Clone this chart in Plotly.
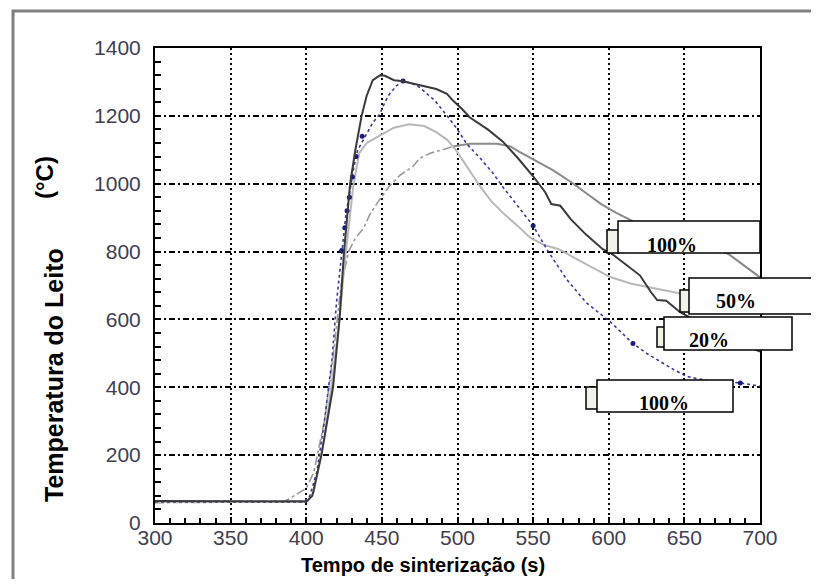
import plotly.graph_objects as go

# ---------------- data ----------------
dark_x = [300, 380, 398, 400, 404, 410, 417.7, 422, 425, 429, 432.5, 436.6, 440, 444, 449, 452,
          458, 463, 475, 486, 493, 497, 503, 508, 520, 530, 540, 550, 558, 562, 568, 575, 585,
          596, 601, 610, 620.6, 628, 632, 638, 647, 660, 680, 700]
dark_y = [65, 65, 64, 62, 80, 200, 400, 600, 800, 1000, 1100, 1200, 1260, 1305, 1320, 1318,
          1305, 1303, 1290, 1279, 1265, 1245, 1220, 1196, 1160, 1124, 1075, 1022, 975, 940, 935,
          895, 850, 807, 797, 765, 730, 680, 657, 655, 622, 590, 545, 505]

light_x = [300, 385, 400, 405, 412, 418, 422, 425, 428, 431, 435, 440, 443, 450, 458, 468, 478,
           486, 493, 499, 507, 515, 522, 530, 540, 548, 557, 567, 580, 590, 601, 615, 634, 649,
           670, 700]
light_y = [62, 62, 62, 90, 250, 450, 600, 750, 870, 990, 1090, 1120, 1128, 1145, 1165, 1175, 1170,
           1152, 1130, 1099, 1045, 992, 950, 914, 875, 841, 820, 807, 775, 750, 725, 705, 688, 675,
           660, 640]

mid_rise_x = [300, 385, 390, 400, 405, 412, 418, 423, 428, 432, 438, 442, 448, 455, 462, 470.6,
              475, 482, 490, 497]
mid_rise_y = [60, 62, 75, 102, 150, 300, 500, 700, 800, 836, 870, 909, 950, 993, 1025, 1051,
              1075, 1090, 1100, 1110]
mid_x = [497, 508, 526, 535, 541, 550, 563, 575, 585, 595, 605, 620, 640, 660, 680, 700]
mid_y = [1110, 1118, 1118, 1110, 1094, 1072, 1040, 1005, 972, 940, 914, 880, 855, 836, 790, 724]

blue_x = [300, 385, 398, 402, 407, 412, 417, 420, 423.4, 426, 429, 431.5, 434, 440, 444, 448.7,
          452, 455, 460, 464, 470, 475, 485, 493, 500, 506, 515, 523.5, 530, 536.6, 543, 550,
          560, 572, 585, 601, 616, 625, 634, 643, 651.5, 660, 669, 687, 700]
blue_y = [62, 62, 62, 75, 150, 300, 480, 650, 803, 900, 982, 1050, 1099, 1150, 1180, 1206,
          1240, 1264, 1290, 1303, 1295, 1284, 1245, 1201, 1160, 1118, 1075, 1031, 990, 953, 915,
          876, 800, 719, 650, 593, 529, 500, 476, 452, 432, 424, 418, 413, 403]
blue_mark_x = [423.4, 425.5, 427, 428.5, 430.5, 433, 437, 464, 550, 616, 687]
blue_mark_y = [803, 870, 920, 960, 1020, 1080, 1140, 1303, 876, 529, 413]

x_ticks = [300, 350, 400, 450, 500, 550, 600, 650, 700]
y_ticks = [0, 200, 400, 600, 800, 1000, 1200, 1400]

labels = ["100%", "50%", "20%", "100%"]

# ---------------- layout helpers (page pixel -> paper) ----------------
OFF = 8                      # page body margin
W, H = 819 - 2 * OFF, 587 - 2 * OFF
L, R, T, B = 155, 760, 48, 523   # plot area in page pixels


def px(p):
    return (p - L) / (R - L)


def py(p):
    return (B - p) / (B - T)


fig = go.Figure()

fig.add_trace(go.Scatter(x=mid_rise_x, y=mid_rise_y, mode="lines",
                         line=dict(color="#9a9a9a", width=1.6, dash="dashdot"), showlegend=False))
fig.add_trace(go.Scatter(x=mid_x, y=mid_y, mode="lines",
                         line=dict(color="#8a8a8a", width=2), showlegend=False))
fig.add_trace(go.Scatter(x=light_x, y=light_y, mode="lines",
                         line=dict(color="#b8b8b8", width=2), showlegend=False))
fig.add_trace(go.Scatter(x=blue_x, y=blue_y, mode="lines",
                         line=dict(color="#3a3a9a", width=1.6, dash="dot"), showlegend=False))
fig.add_trace(go.Scatter(x=blue_mark_x, y=blue_mark_y, mode="markers",
                         marker=dict(color="#1c1c7a", size=5), showlegend=False))
fig.add_trace(go.Scatter(x=dark_x, y=dark_y, mode="lines",
                         line=dict(color="#3a3a3a", width=2), showlegend=False))

tickfont = dict(family="Liberation Sans, Arial", size=21, color="#404050")

fig.update_xaxes(range=[300, 700], tickvals=x_ticks, ticktext=[str(v) for v in x_ticks],
                 showline=True, linecolor="black", linewidth=2, mirror=True,
                 ticks="inside", ticklen=6, tickwidth=2, tickcolor="black",
                 showgrid=True, gridcolor="black", gridwidth=2, griddash="2px,3px",
                 zeroline=False, tickfont=tickfont, ticklabelstandoff=-5,
                 minor=dict(dtick=10, ticks="inside", ticklen=5, tickwidth=2,
                            tickcolor="black", showgrid=False))
fig.update_yaxes(range=[0, 1400], tickvals=y_ticks, ticktext=[str(v) for v in y_ticks],
                 showline=True, linecolor="black", linewidth=2, mirror=True,
                 ticks="inside", ticklen=6, tickwidth=2, tickcolor="black",
                 showgrid=True, gridcolor="black", gridwidth=2, griddash="6px,3px,2px,3px",
                 zeroline=False, tickfont=tickfont, ticklabelstandoff=8,
                 minor=dict(dtick=40, ticks="inside", ticklen=6, tickwidth=2,
                            tickcolor="black", showgrid=False))

shapes = []
# outer frame
shapes.append(dict(type="rect", xref="paper", yref="paper",
                   x0=px(13), x1=px(900), y0=py(11), y1=py(650),
                   line=dict(color="#808080", width=3), fillcolor="rgba(0,0,0,0)", layer="below"))


def box(x0, x1, y0, y1, lw=1.5, color="black", fill="white"):
    return dict(type="rect", xref="paper", yref="paper", x0=px(x0), x1=px(x1),
                y0=py(y1), y1=py(y0), line=dict(color=color, width=lw), fillcolor=fill,
                layer="above")


sq_fill = "#f4f1e6"
# box 1 (100%)
shapes.append(box(607, 619, 230, 253, fill=sq_fill))
shapes.append(box(618, 760, 221, 253))
# box 2 (50%)
shapes.append(box(680, 690, 290, 312, fill=sq_fill))
shapes.append(box(689, 840, 278, 314))
# box 3 (20%)
shapes.append(box(657, 665, 327, 347, fill=sq_fill))
shapes.append(box(664, 792, 317, 350))
# box 4 (100%)
shapes.append(box(586, 598, 387, 409, fill=sq_fill))
shapes.append(box(597, 733, 380, 412))

fig.update_layout(shapes=shapes)

serif = dict(family="Liberation Serif, Times New Roman", size=20, color="black")
ann = []
for lab, (lx, base) in zip(labels, [(645, 252), (714, 308), (687, 347), (637, 410)]):
    ann.append(dict(text="<b>%s</b>" % lab, x=px(lx), y=py(base - 7), xref="paper", yref="paper",
                    xanchor="left", yanchor="middle", showarrow=False, font=serif))

sans = dict(family="Liberation Sans, Arial", size=20, color="black")
ann.append(dict(text="<b>Tempo de sinterização (s)</b>", x=px(423), y=py(565), xref="paper",
                yref="paper", xanchor="center", yanchor="middle", showarrow=False, font=sans))
ann.append(dict(text="<b>Temperatura do Leito</b>", x=px(54), y=py(375), xref="paper",
                yref="paper", xanchor="center", yanchor="middle", showarrow=False,
                textangle=-90, font=dict(family="Liberation Sans, Arial", size=25, color="black")))
ann.append(dict(text="<b>(°C)</b>", x=px(45), y=py(178), xref="paper",
                yref="paper", xanchor="center", yanchor="middle", showarrow=False,
                textangle=-90, font=dict(family="Liberation Sans, Arial", size=24, color="black")))
fig.update_layout(annotations=ann)

fig.update_layout(width=W, height=H,
                  margin=dict(l=L - OFF, r=OFF + W - R, t=T - OFF, b=OFF + H - B, pad=0),
                  paper_bgcolor="white", plot_bgcolor="white", showlegend=False)

fig.write_html("out.html")
